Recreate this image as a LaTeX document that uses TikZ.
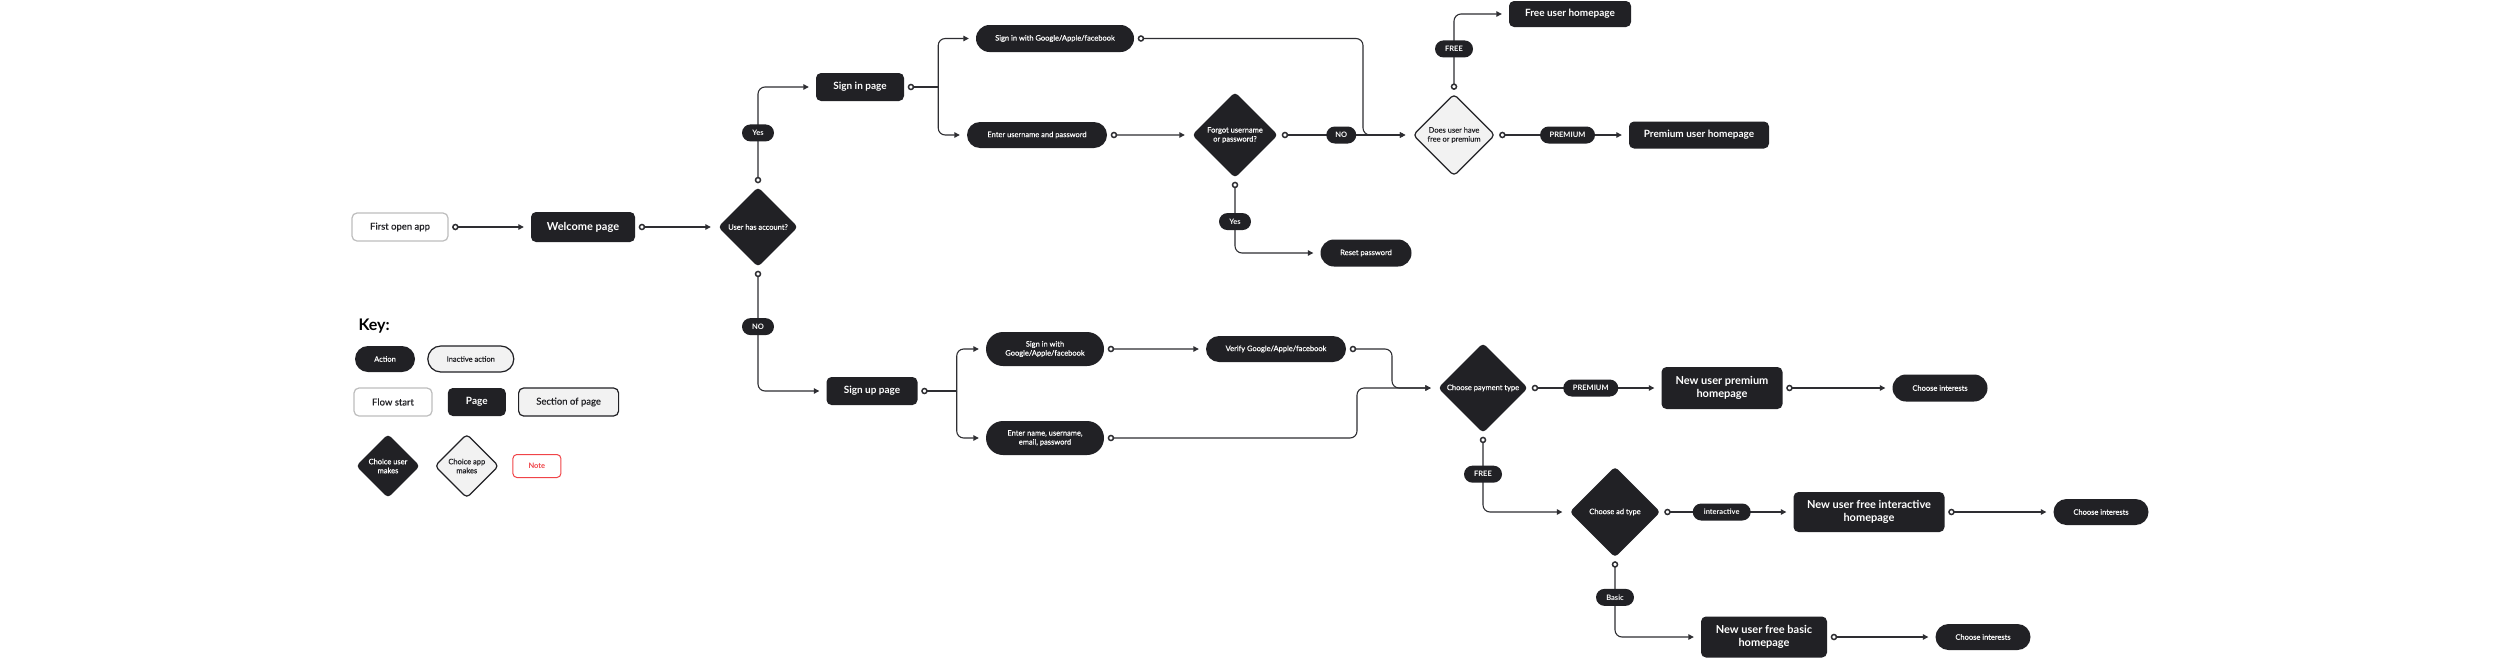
\documentclass[tikz,border=0pt]{standalone}
\usepackage{fontspec}
\setmainfont{Lato}
\newfontfamily\medfont[FakeBold=0.35]{Lato}
\usetikzlibrary{arrows.meta,positioning,shapes.geometric,shapes.misc}
\definecolor{ink}{HTML}{212125}
\definecolor{linecol}{HTML}{2E2E32}
\definecolor{paper}{HTML}{F2F2F2}
\definecolor{rim}{HTML}{BDBDBD}
\definecolor{alert}{HTML}{F04448}

\begin{document}
\begin{tikzpicture}[
  x=1pt, y=-1pt,
  page/.style={fill=ink, text=white, rounded corners=5pt, inner sep=0pt, align=center,
    font=\fontsize{10}{12}\selectfont\bfseries},
  bigpage/.style={page, font=\fontsize{11}{13.5}\selectfont\bfseries},
  start/.style={page, fill=white, draw=rim, line width=1.2pt, text=ink,
    font=\fontsize{9.5}{11}\medfont},
  section/.style={page, fill=paper, draw=ink, line width=1.2pt, text=ink,
    font=\fontsize{9.5}{11}\medfont},
  action/.style={rounded rectangle, fill=ink, text=white, inner sep=0pt, align=center,
    font=\fontsize{7.5}{9}\medfont},
  inactive/.style={action, fill=paper, draw=ink, line width=1.2pt, text=ink},
  choice/.style={diamond, fill=ink, text=white, rounded corners=4pt, inner sep=0pt, align=center,
    font=\fontsize{7.5}{9}\medfont},
  appchoice/.style={choice, fill=paper, draw=ink, line width=1.2pt, text=ink},
  note/.style={rounded corners=4pt, fill=white, draw=alert, line width=1pt, text=alert,
    inner sep=0pt, font=\fontsize{7.5}{9}\selectfont\bfseries},
  lbl/.style={rounded rectangle, sharp corners, fill=ink, text=white, inner sep=0pt, minimum height=17pt,
    font=\fontsize{7.5}{9}\selectfont\bfseries},
  conn/.style={draw=linecol, line width=1.1pt, rounded corners=7pt},
  arr/.style={conn, shorten <=3.5pt, shorten >=7pt,
    {Circle[length=6.5pt,fill=white,line width=1.5pt]}-{Triangle[length=5.5pt,width=5.5pt]}},
  stub/.style={conn, shorten <=3.5pt, {Circle[length=6.5pt,fill=white,line width=1.5pt]}-},
  branch/.style={conn, shorten >=7pt, -{Triangle[length=5.5pt,width=5.5pt]}}
]
  \fill[white] (0,0) rectangle (2500,659);
  \useasboundingbox (0,0) rectangle (2500,659);

  \node[start, minimum width=96pt, minimum height=28pt] (firstopen) at (400,227) {First open app};
  \node[bigpage, minimum width=104pt, minimum height=30pt] (welcome) at (583,227) {Welcome page};
  \node[choice, minimum width=80pt, minimum height=80pt] (hasacct) at (758,227) {User has account?};

  \node[page, minimum width=88pt, minimum height=28pt] (signin) at (860,87) {Sign in page};
  \coordinate[right=34pt of signin.east] (splitA);
  \node[action, minimum width=158pt, minimum height=27pt] (signgoogle) at (1055,38.5) {Sign in with Google/Apple/facebook};
  \node[action, minimum width=140pt, minimum height=26pt] (enteruser) at (1037,135) {Enter username and password};
  \node[choice, minimum width=86pt, minimum height=86pt] (forgot) at (1235,135) {Forgot username\\or password?};
  \node[appchoice, minimum width=82pt, minimum height=82pt] (freeprem) at (1454,135) {Does user have\\free or premium};
  \node[page, minimum width=122pt, minimum height=26pt] (freehome) at (1570,14) {Free user homepage};
  \node[page, minimum width=140pt, minimum height=27pt] (premhome) at (1699,135) {Premium user homepage};
  \node[action, minimum width=91pt, minimum height=27pt] (reset) at (1366,253) {Reset password};
  \coordinate (joinA) at (1363,135);

  \node[page, minimum width=91pt, minimum height=28pt] (signup) at (872,391) {Sign up page};
  \coordinate[right=39pt of signup.east] (splitB);
  \node[action, minimum width=118pt, minimum height=34pt] (signgoogleB) at (1045,349) {Sign in with\\Google/Apple/facebook};
  \node[action, minimum width=118pt, minimum height=34pt] (entername) at (1045,438) {Enter name, username,\\email, password};
  \node[action, minimum width=140pt, minimum height=26pt] (verify) at (1276,349) {Verify Google/Apple/facebook};
  \node[choice, minimum width=90pt, minimum height=90pt] (paytype) at (1483,388) {Choose payment type};
  \coordinate (joinB) at (1392,388);
  \coordinate (joinC) at (1357,388);
  \node[bigpage, minimum width=121pt, minimum height=42pt] (newprem) at (1722,388) {New user premium\\homepage};
  \node[action, minimum width=95pt, minimum height=27pt] (interestsA) at (1940,388) {Choose interests};
  \node[choice, minimum width=91pt, minimum height=91pt] (adtype) at (1615,512) {Choose ad type};
  \node[bigpage, minimum width=151pt, minimum height=40pt] (newfreeint) at (1869,512) {New user free interactive\\homepage};
  \node[action, minimum width=95pt, minimum height=26pt] (interestsB) at (2101,512) {Choose interests};
  \node[bigpage, minimum width=126pt, minimum height=41pt] (newfreebasic) at (1764,637) {New user free basic\\homepage};
  \node[action, minimum width=95pt, minimum height=26pt] (interestsC) at (1983,637) {Choose interests};

  % key
  \node[anchor=west, font=\fontsize{16}{18}\selectfont\bfseries] (keytitle) at (355,326) {Key:};
  \node[action, minimum width=60pt, minimum height=26pt] (keyaction) at (385,359) {Action};
  \node[inactive, minimum width=86pt, minimum height=26pt, right=12pt of keyaction] (keyinactive) {Inactive action};
  \node[start, minimum width=78pt, minimum height=28pt] (keystart) at (393,402) {Flow start};
  \node[page, minimum width=58pt, minimum height=28pt, right=15pt of keystart] (keypage) {Page};
  \node[section, minimum width=100pt, minimum height=28pt, right=12pt of keypage] (keysection) {Section of page};
  \node[choice, minimum width=64pt, minimum height=64pt] (keyuser) at (388,466) {Choice user\\makes};
  \node[appchoice, minimum width=64pt, minimum height=64pt, right=14pt of keyuser] (keyapp) {Choice app\\makes};
  \node[note, minimum width=48pt, minimum height=23pt, right=13pt of keyapp] (keynote) {Note};

  \draw[arr] (firstopen) -- (welcome);
  \draw[arr] (welcome) -- (hasacct);
  \draw[arr] (hasacct.north) |- node[lbl, pos=0.27, minimum width=32pt] {Yes} (signin.west);
  \draw[arr] (hasacct.south) |- node[lbl, pos=0.24, minimum width=32pt] {NO} (signup.west);

  \draw[stub] (signin.east) -- (splitA);
  \draw[branch] (splitA) |- (signgoogle.west);
  \draw[branch] (splitA) |- (enteruser.west);
  \draw[arr] (signgoogle.east) -| (joinA) -- (freeprem.west);
  \draw[arr] (enteruser) -- (forgot);
  \draw[arr] (forgot) -- node[lbl, pos=0.47, minimum width=30pt] {NO} (freeprem);
  \draw[arr] (forgot.south) |- node[lbl, pos=0.29, minimum width=32pt] {Yes} (reset.west);
  \draw[arr] (freeprem.north) |- node[lbl, pos=0.28, minimum width=38pt] {FREE} (freehome.west);
  \draw[arr] (freeprem) -- node[lbl, pos=0.54, minimum width=55pt] {PREMIUM} (premhome);

  \draw[stub] (signup.east) -- (splitB);
  \draw[branch] (splitB) |- (signgoogleB.west);
  \draw[branch] (splitB) |- (entername.west);
  \draw[arr] (signgoogleB) -- (verify);
  \draw[arr] (verify.east) -| (joinB) -- (paytype.west);
  \draw[arr] (entername.east) -| (joinC) -- (paytype.west);
  \draw[arr] (paytype) -- node[lbl, pos=0.47, minimum width=55pt] {PREMIUM} (newprem);
  \draw[arr] (newprem) -- (interestsA);
  \draw[arr] (paytype.south) |- node[lbl, pos=0.26, minimum width=38pt] {FREE} (adtype.west);
  \draw[arr] (adtype) -- node[lbl, pos=0.46, minimum width=58pt] {interactive} (newfreeint);
  \draw[arr] (newfreeint) -- (interestsB);
  \draw[arr] (adtype.south) |- node[lbl, pos=0.25, minimum width=38pt] {Basic} (newfreebasic.west);
  \draw[arr] (newfreebasic) -- (interestsC);
\end{tikzpicture}
\end{document}
